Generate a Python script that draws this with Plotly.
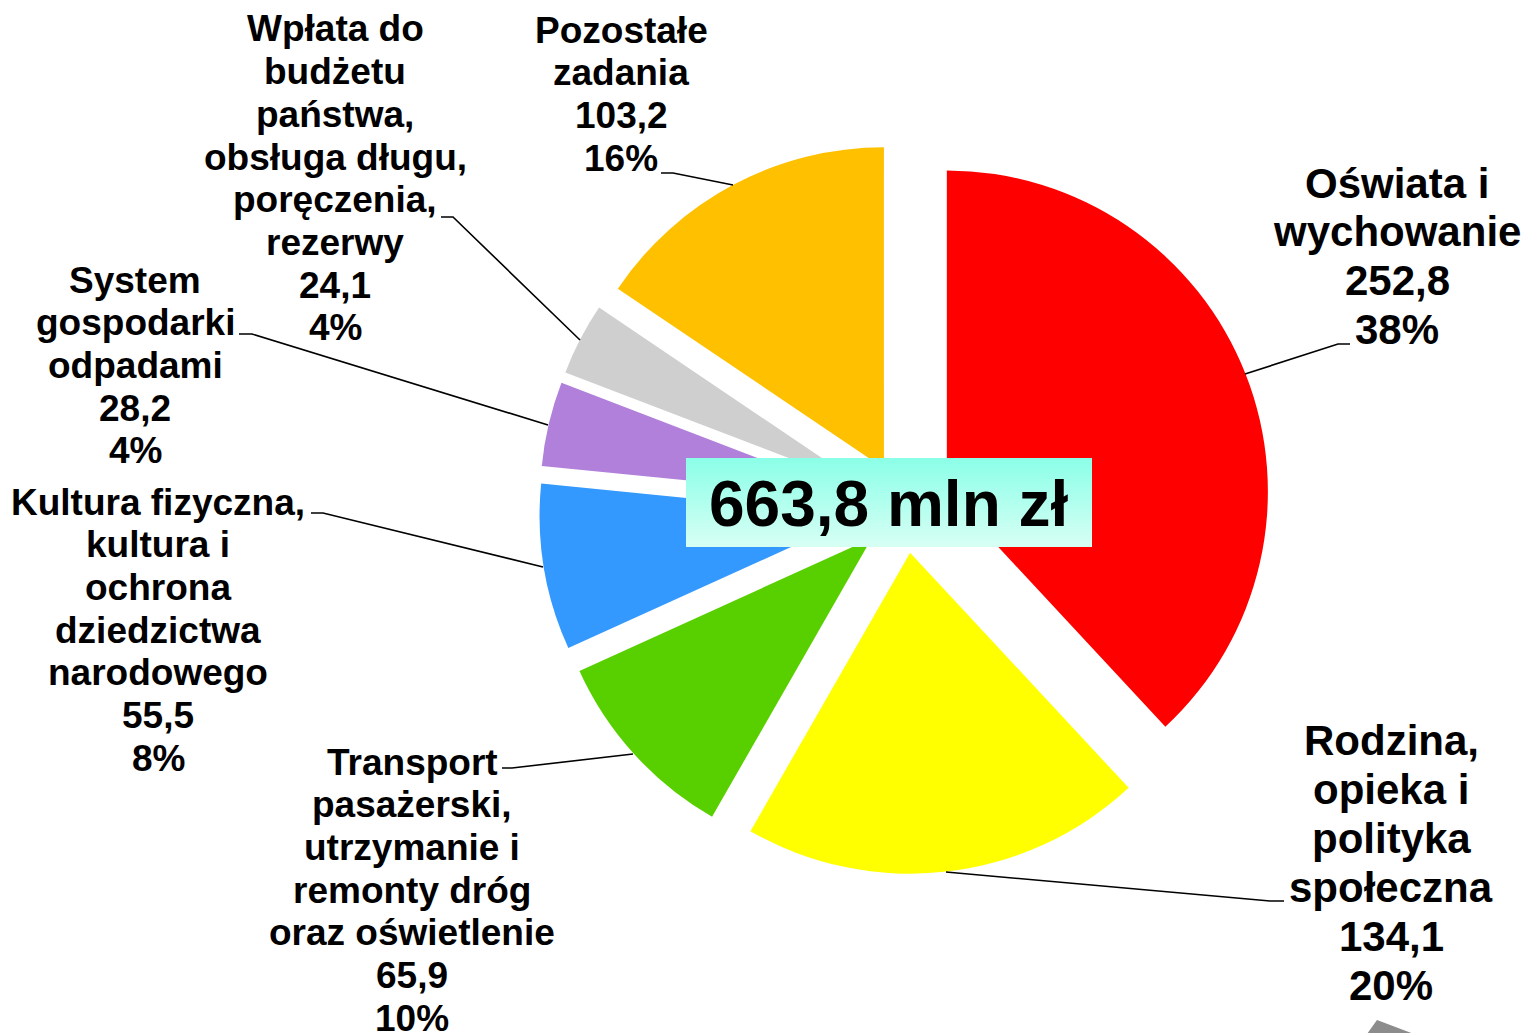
import plotly.graph_objects as go

W, H = 1525, 1033

# ---- data ----
categories = [
    "Oświata i wychowanie",
    "Rodzina, opieka i polityka społeczna",
    "Transport pasażerski, utrzymanie i remonty dróg oraz oświetlenie",
    "Kultura fizyczna, kultura i ochrona dziedzictwa narodowego",
    "System gospodarki odpadami",
    "Wpłata do budżetu państwa, obsługa długu, poręczenia, rezerwy",
    "Pozostałe zadania",
]
values = [252.8, 134.1, 65.9, 55.5, 28.2, 24.1, 103.2]
percents = ["38%", "20%", "10%", "8%", "4%", "4%", "16%"]
value_labels = ["252,8", "134,1", "65,9", "55,5", "28,2", "24,1", "103,2"]
label_lines = [
    ["Oświata i", "wychowanie"],
    ["Rodzina,", "opieka i", "polityka", "społeczna"],
    ["Transport", "pasażerski,", "utrzymanie i", "remonty dróg", "oraz oświetlenie"],
    ["Kultura fizyczna,", "kultura i", "ochrona", "dziedzictwa", "narodowego"],
    ["System", "gospodarki", "odpadami"],
    ["Wpłata do", "budżetu", "państwa,", "obsługa długu,", "poręczenia,", "rezerwy"],
    ["Pozostałe", "zadania"],
]
total_label = "663,8 mln zł"

colors = ["#FF0000", "#FFFF00", "#58D000", "#3399FF", "#B180DA", "#CFCFCF", "#FFC000"]

# ---- layout helpers (pixel -> paper) ----
def px(x):
    return x / W

def py(y):
    return 1 - y / H

fig = go.Figure()
fig.add_trace(go.Pie(
    values=values,
    labels=categories,
    sort=False,
    direction="clockwise",
    rotation=0,
    pull=[0.14] * len(values),
    marker=dict(colors=colors, line=dict(width=0)),
    textinfo="none",
    hoverinfo="label+value+percent",
    showlegend=False,
    domain=dict(x=[px(539), px(1271)], y=[py(874), py(142)]),
))

# label placement: (center x, first-line center y, line spacing, font size)
label_pos = [
    (1397, 183, 49, 42),
    (1391, 740, 49, 42),
    (412, 762, 42.7, 37),
    (158, 502, 42.7, 37),
    (135, 280, 42.7, 37),
    (335, 29, 42.7, 37),
    (621, 30, 42.7, 37),
]

annotations = []
FONT = "Arial, Liberation Sans, sans-serif"
for lines, v, p, (cx, y0, dy, fs) in zip(label_lines, value_labels, percents, label_pos):
    all_lines = lines + [v, p]
    for i, t in enumerate(all_lines):
        annotations.append(dict(
            x=px(cx), y=py(y0 + i * dy), xref="paper", yref="paper",
            text="<b>%s</b>" % t, showarrow=False,
            xanchor="center", yanchor="middle",
            font=dict(family=FONT, size=fs, color="black"),
        ))

# center total
annotations.append(dict(
    x=px(889), y=py(504), xref="paper", yref="paper",
    text="<b>%s</b>" % total_label, showarrow=False,
    xanchor="center", yanchor="middle",
    font=dict(family=FONT, size=64, color="black"),
))

shapes = []
# gradient box behind total
bx0, bx1, by0, by1 = 686, 1092, 458, 547
c_top = (0x8C, 0xFF, 0xE8)
c_bot = (0xD6, 0xFF, 0xF4)
n = 30
for i in range(n):
    t = i / (n - 1)
    c = tuple(int(round(a + (b - a) * t)) for a, b in zip(c_top, c_bot))
    y_a = by0 + (by1 - by0) * i / n
    y_b = by0 + (by1 - by0) * (i + 1) / n + 2.0
    shapes.append(dict(
        type="rect", xref="paper", yref="paper",
        x0=px(bx0), x1=px(bx1), y0=py(min(y_b, by1)), y1=py(y_a),
        fillcolor="rgb(%d,%d,%d)" % c, line=dict(width=0), layer="above",
    ))

# leader lines
leaders = [
    [(1245, 374), (1338, 344), (1350, 344)],
    [(946, 872), (1270, 901), (1284, 901)],
    [(633, 754), (512, 768), (502, 768)],
    [(543, 567), (323, 513), (311, 513)],
    [(548, 425), (252, 334), (239, 334)],
    [(580, 340), (453, 217), (441, 217)],
    [(733, 185), (673, 173), (661, 173)],
]
for pts in leaders:
    path = "M " + " L ".join("%f,%f" % (px(x), py(y)) for x, y in pts)
    shapes.append(dict(type="path", xref="paper", yref="paper", path=path,
                       line=dict(color="black", width=1.6), layer="above"))

# grey arrow fragment in bottom-right corner
arrow = [(1377, 1020), (1414, 1034), (1367, 1034)]
shapes.append(dict(type="path", xref="paper", yref="paper",
                   path="M " + " L ".join("%f,%f" % (px(x), py(y)) for x, y in arrow) + " Z",
                   fillcolor="#8C8C8C", line=dict(width=0), layer="above"))

fig.update_layout(
    width=W, height=H,
    margin=dict(l=0, r=0, t=0, b=0),
    paper_bgcolor="white", plot_bgcolor="white",
    annotations=annotations, shapes=shapes,
)

fig.write_html("out.html",
               config={"displayModeBar": False},
               post_script="document.body.style.margin='0';document.body.style.overflow='hidden';")
